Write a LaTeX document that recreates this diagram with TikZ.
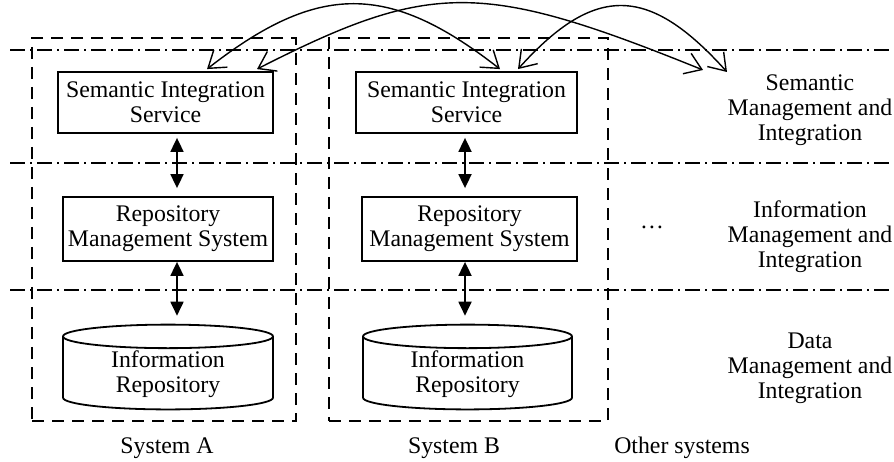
\documentclass[tikz,border=0pt]{standalone}
\usepackage{fontspec}
\setmainfont{Liberation Serif}
\usetikzlibrary{shapes.geometric, arrows, arrows.meta}
\tikzstyle{service} = [rectangle, minimum height=30.5pt, inner sep=1pt, text centered, align=center, draw=black, line width=0.9pt]
\tikzstyle{repo} = [cylinder, shape border rotate=90, aspect=0.2, minimum height=41pt, inner sep=1pt, text centered, align=center, draw=black, line width=0.9pt]
\tikzstyle{sysbox} = [rectangle, draw=black, line width=0.8pt, dash pattern=on 6pt off 4pt, minimum height=191.5pt]
\tikzstyle{layerline} = [line width=0.8pt, dash pattern=on 7.5pt off 2.5pt on 1pt off 2.5pt]
\tikzstyle{dblarrow} = [line width=0.9pt, {Triangle[length=7pt,width=6.5pt]}-{Triangle[length=7pt,width=6.5pt]}]
\tikzstyle{link} = [line width=0.7pt, {Straight Barb[length=8pt,width=11pt]}-{Straight Barb[length=8pt,width=11pt]}]

\begin{document}
\begin{tikzpicture}
[x=0.5pt, y=0.5pt, nodes = {align = center}, font=\fontsize{11.9}{12.5}\selectfont]
\useasboundingbox (0,0) rectangle (894,461);

% layer borders
\draw [layerline] (10,411) -- (894,411);
\draw [layerline] (10,298) -- (894,298);
\draw [layerline] (10,171) -- (894,171);

% systems
\node (sysA) [sysbox, minimum width=132pt] at (164,231.5) {};
\node (sysB) [sysbox, minimum width=139.5pt] at (468.5,231.5) {};

\node (sisA) [service, minimum width=107.5pt] at (165.5,358.5) {Semantic Integration\\Service};
\node (rmsA) [service, minimum width=105pt, minimum height=32pt] at (168,232) {Repository\\Management System};
\node (repA) [repo, minimum width=105pt] at (168,86.5) {Information\\Repository};

\node (sisB) [service, minimum width=110.5pt] at (466.5,358.5) {Semantic Integration\\Service};
\node (rmsB) [service, minimum width=107.5pt, minimum height=32pt] at (469.5,232) {Repository\\Management System};
\node (repB) [repo, minimum width=104.5pt] at (467.5,86.5) {Information\\Repository};

\node (labA) at (167,13) {System A};
\node (labB) at (454,13) {System B};
\node (labO) at (682,13) {Other systems};
\node (dots) at (652,234) {\dots};

\node (semLayer) at (810,351) {Semantic\\Management and\\Integration};
\node (infLayer) at (810,224) {Information\\Management and\\Integration};
\node (datLayer) at (810,93) {Data\\Management and\\Integration};

\coordinate (other1) at (703,391);
\coordinate (other2) at (727,389);

\draw [dblarrow, shorten <=2pt, shorten >=4pt] ([xshift=5.75pt]sisA.south) -- ([xshift=4.5pt]rmsA.north);
\draw [dblarrow, shorten >=4pt] ([xshift=4.5pt]rmsA.south) -- ([xshift=4.5pt]repA.north);
\draw [dblarrow, shorten <=2pt, shorten >=4pt] ([xshift=-0.75pt]sisB.south) -- ([xshift=-2.25pt]rmsB.north);
\draw [dblarrow, shorten >=4pt] ([xshift=-2.25pt]rmsB.south) -- ([xshift=-1.25pt]repB.north);

\draw [link] ([xshift=20.75pt,yshift=1pt]sisA.north) to[out=38, in=142, out distance=70.5pt, in distance=70.5pt] ([xshift=16.75pt,yshift=1pt]sisB.north);
\draw [link] ([xshift=45.75pt,yshift=1pt]sisA.north) to[out=27, in=158, out distance=98pt, in distance=118.7pt] (other1);
\draw [link] ([xshift=25.75pt,yshift=1pt]sisB.north) to[out=48, in=132, out distance=58pt, in distance=58pt] (other2);
\end{tikzpicture}
\end{document}
